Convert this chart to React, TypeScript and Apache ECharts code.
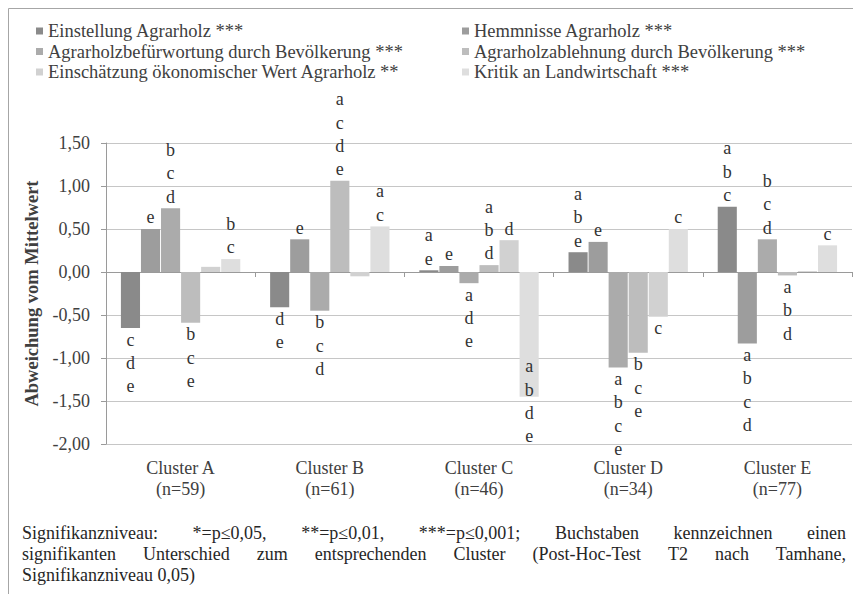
import React, { useEffect, useRef } from "react";
import * as echarts from "echarts";

// ---------- data ----------
const categories = [
  "Cluster A\n(n=59)",
  "Cluster B\n(n=61)",
  "Cluster C\n(n=46)",
  "Cluster D\n(n=34)",
  "Cluster E\n(n=77)",
];

const seriesNames = [
  "Einstellung Agrarholz ***",
  "Hemmnisse Agrarholz ***",
  "Agrarholzbefürwortung durch Bevölkerung ***",
  "Agrarholzablehnung durch Bevölkerung ***",
  "Einschätzung ökonomischer Wert Agrarholz **",
  "Kritik an Landwirtschaft ***",
];

const einstellung = [-0.65, -0.41, 0.02, 0.23, 0.76];
const hemmnisse = [0.5, 0.38, 0.07, 0.35, -0.83];
const befuerwortung = [0.74, -0.45, -0.13, -1.11, 0.38];
const ablehnung = [-0.59, 1.06, 0.08, -0.94, -0.04];
const oekWert = [0.06, -0.05, 0.37, -0.52, 0.01];
const kritik = [0.15, 0.53, -1.45, 0.5, 0.31];

const lettersEinstellung = ["c d e", "d e", "a e", "a b e", "a b c"];
const lettersHemmnisse = ["e", "e", "e", "e", "a b c d"];
const lettersBefuerwortung = ["b c d", "b c d", "a d e", "a b c e", "b c d"];
const lettersAblehnung = ["b c e", "a c d e", "a b d", "b c e", "a b d"];
const lettersOekWert = ["", "", "d", "c", ""];
const lettersKritik = ["b c", "a c", "a b d e", "c", "c"];

const yMin = -2;
const yMax = 1.5;
const yInterval = 0.5;

const footLine1 = ["Signifikanzniveau:", "*=p≤0,05,", "**=p≤0,01,", "***=p≤0,001;", "Buchstaben", "kennzeichnen", "einen"];
const footLine2 = ["signifikanten", "Unterschied", "zum", "entsprechenden", "Cluster", "(Post-Hoc-Test", "T2", "nach", "Tamhane,"];
const footLine3 = "Signifikanzniveau 0,05)";

// ---------- style ----------
const FONT = "Liberation Serif, Times New Roman, DejaVu Serif, serif";
const colors = ["#8a8a8a", "#9d9d9d", "#ababab", "#bdbdbd", "#d1d1d1", "#dedede"];
// Excel pulled one long label upward to keep it inside the chart
const labelLift: Record<string, number> = { "5-2": -42 };

export default function App() {
  const ref = useRef<HTMLDivElement>(null);

  useEffect(() => {
    if (!ref.current) return;
    const chart = echarts.init(ref.current, null, { renderer: "svg" });

    const values = [einstellung, hemmnisse, befuerwortung, ablehnung, oekWert, kritik];
    const letters = [lettersEinstellung, lettersHemmnisse, lettersBefuerwortung, lettersAblehnung, lettersOekWert, lettersKritik];

    // justified footnote
    const canvas = document.createElement("canvas");
    const ctx = canvas.getContext("2d")!;
    ctx.font = `18px ${FONT}`;
    const footLeft = 22;
    const footRight = 846;
    const justify = (words: string[], y: number) => {
      const widths = words.map((w) => ctx.measureText(w).width);
      const total = widths.reduce((a, b) => a + b, 0);
      const gap = (footRight - footLeft - total) / (words.length - 1);
      let x = footLeft;
      return words.map((w, i) => {
        const el = {
          type: "text",
          x,
          y,
          style: { text: w, fontFamily: FONT, fontSize: 18, fill: "#262626", textVerticalAlign: "middle" },
        };
        x += widths[i] + gap;
        return el;
      });
    };

    const graphics: any[] = [
      { type: "line", shape: { x1: 8.5, y1: 8.5, x2: 853, y2: 8.5 }, style: { stroke: "#a6a6a6", lineWidth: 1 } },
      { type: "line", shape: { x1: 8.5, y1: 8.5, x2: 8.5, y2: 594 }, style: { stroke: "#a6a6a6", lineWidth: 1 } },
      ...justify(footLine1, 533),
      ...justify(footLine2, 554),
      {
        type: "text",
        x: footLeft,
        y: 575,
        style: { text: footLine3, fontFamily: FONT, fontSize: 18, fill: "#262626", textVerticalAlign: "middle" },
      },
    ];

    const legendText = { fontFamily: FONT, fontSize: 18.5, lineHeight: 20, color: "#404040" };

    chart.setOption({
      animation: false,
      backgroundColor: "#ffffff",
      color: colors,
      textStyle: { fontFamily: FONT },
      legend: [
        {
          left: 36, top: 21, orient: "vertical", padding: 0, itemWidth: 7, itemHeight: 7, itemGap: 0.5,
          icon: "rect", selectedMode: false, data: [seriesNames[0], seriesNames[2], seriesNames[4]], textStyle: legendText,
        },
        {
          left: 462, top: 21, orient: "vertical", padding: 0, itemWidth: 7, itemHeight: 7, itemGap: 0.5,
          icon: "rect", selectedMode: false, data: [seriesNames[1], seriesNames[3], seriesNames[5]], textStyle: legendText,
        },
      ],
      grid: { left: 106, right: 1, top: 143, bottom: 150, containLabel: false },
      xAxis: [
        {
          type: "category",
          data: categories,
          position: "bottom",
          axisLine: { show: false, onZero: false },
          axisTick: { show: false },
          axisLabel: { margin: 13, fontFamily: FONT, fontSize: 18, lineHeight: 21, color: "#404040", interval: 0 },
        },
        {
          type: "category",
          data: categories,
          position: "bottom",
          axisLine: { show: true, onZero: true, lineStyle: { color: "#9a9a9a", width: 1 } },
          axisTick: { show: true, length: 5, lineStyle: { color: "#9a9a9a" } },
          axisLabel: { show: false },
        },
      ],
      yAxis: {
        type: "value",
        min: yMin,
        max: yMax,
        interval: yInterval,
        name: "Abweichung vom Mittelwert",
        nameLocation: "middle",
        nameGap: 59,
        nameTextStyle: { fontFamily: FONT, fontSize: 18.5, fontWeight: "bold", color: "#404040" },
        axisLine: { show: true, lineStyle: { color: "#9a9a9a" } },
        axisTick: { show: true, length: 5, lineStyle: { color: "#9a9a9a" } },
        splitLine: { show: true, lineStyle: { color: "#c6c6c6", width: 1 } },
        axisLabel: {
          margin: 16,
          fontFamily: FONT,
          fontSize: 18,
          color: "#404040",
          formatter: (v: number) => v.toFixed(2).replace(".", ","),
        },
      },
      series: values.map((vals, si) => ({
        type: "bar",
        name: seriesNames[si],
        xAxisIndex: 0,
        barCategoryGap: "20%",
        barGap: "5%",
        itemStyle: { color: colors[si] },
        label: {
          fontFamily: FONT,
          fontSize: 18,
          lineHeight: 23.3,
          color: "#333333",
          distance: 0,
        },
        data: vals.map((v, ci) => {
          const txt = letters[si][ci];
          const lift = labelLift[`${si}-${ci}`] || 0;
          return {
            value: v,
            label: {
              show: txt !== "",
              position: v >= 0 ? "top" : "bottom",
              offset: [0, lift],
              formatter: txt.split(" ").join("\n"),
            },
          };
        }),
      })),
      graphic: graphics,
    });

    return () => chart.dispose();
  }, []);

  return (
    <div
      ref={ref}
      style={{ position: "fixed", left: 0, top: 0, width: 853, height: 594, background: "#fff" }}
    />
  );
}
